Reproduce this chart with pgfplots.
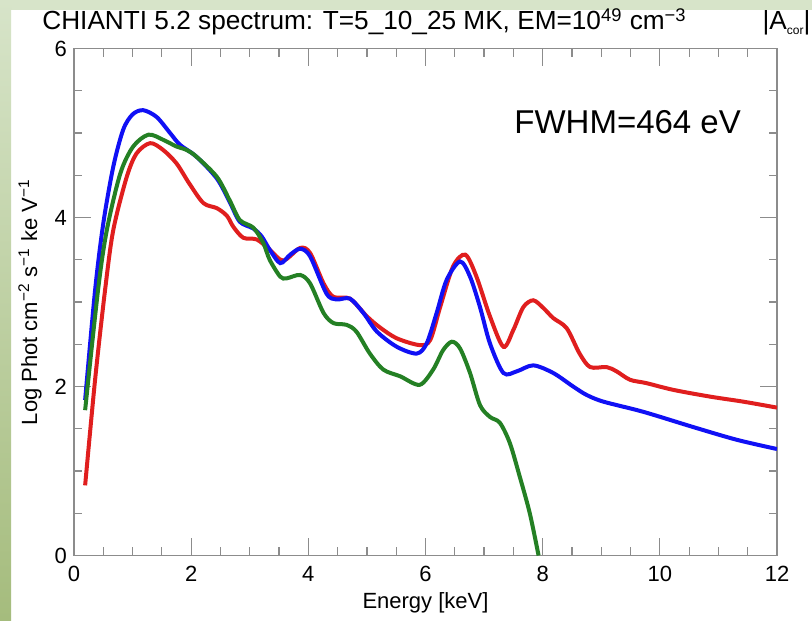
\documentclass[border=0pt]{standalone}
\usepackage{pgfplots}
\pgfplotsset{compat=1.18}
\usepackage{fontspec}
\setmainfont{Liberation Sans}
\definecolor{bgtop}{HTML}{D7E4C9}
\definecolor{bgbot}{HTML}{A5BC7D}
\definecolor{cblue}{HTML}{1010F5}
\definecolor{cred}{HTML}{E01E1E}
\definecolor{cgreen}{HTML}{248024}
\definecolor{axgray}{HTML}{8C8C8C}
\begin{document}
\begin{tikzpicture}[x=1pt,y=1pt]
\useasboundingbox (0,0) rectangle (406,310);
\fill[white] (0,0) rectangle (406,310);
\fill[bgtop] (0,305) rectangle (406,310);
\shade[top color=bgtop, bottom color=bgbot] (0,0) rectangle (5.5,310);
\node[anchor=base west, inner sep=0pt, font=\fontsize{13.1}{15}\selectfont] at (21,295)
 {CHIANTI 5.2 spectrum: T=5\_10\_25 MK, EM=10\textsuperscript{49} cm\textsuperscript{−3}\hspace{38pt}|A\raisebox{-0.3ex}{\fontsize{6}{6}\selectfont cor}|};
\begin{axis}[
  at={(37pt,32.25pt)}, anchor=south west, scale only axis,
  width=351.5pt, height=253.5pt,
  xmin=0, xmax=12, ymin=0, ymax=6,
  xtick={0,2,...,12}, ytick={0,2,4,6},
  minor x tick num=3, minor y tick num=3,
  tick align=inside,
  major tick length=8.5pt, minor tick length=4pt,
  axis line style={axgray, line width=0.7pt},
  every tick/.style={axgray, line width=0.6pt},
  tick label style={font=\fontsize{11}{13}\selectfont, black},
  /pgf/number format/assume math mode=true,
  xticklabel style={yshift=-2pt},
  xlabel={Energy [keV]},
  ylabel={Log Phot cm\textsuperscript{−2} s\textsuperscript{−1} ke V\textsuperscript{−1}},
  label style={font=\fontsize{11}{13}\selectfont},
  xlabel style={at={(axis description cs:0.5,-0.0937)}, anchor=center},
  ylabel style={at={(axis description cs:-0.0626,0.5)}, anchor=center},
  every axis plot/.append style={line width=2pt, smooth, tension=0.5},
]
\addplot[cred] coordinates {
(0.19,0.83)(0.36,2.08)(0.53,3.14)(0.67,3.85)(0.90,4.48)(1.07,4.76)(1.30,4.88)(1.52,4.80)(1.75,4.64)(1.97,4.40)(2.21,4.17)(2.44,4.11)(2.61,4.02)(2.72,3.89)(2.89,3.76)(3.12,3.74)(3.34,3.62)(3.57,3.49)(3.86,3.64)(4.03,3.58)(4.26,3.22)(4.43,3.06)(4.71,3.04)(5.00,2.83)(5.22,2.70)(5.51,2.57)(5.90,2.49)(6.08,2.55)(6.25,2.94)(6.47,3.42)(6.68,3.56)(6.87,3.30)(7.10,2.83)(7.33,2.47)(7.50,2.67)(7.67,2.94)(7.84,3.02)(8.01,2.93)(8.18,2.81)(8.41,2.69)(8.63,2.39)(8.81,2.23)(9.09,2.23)(9.26,2.18)(9.49,2.08)(9.77,2.04)(10.23,1.96)(10.86,1.88)(11.43,1.82)(12.0,1.75)
};
\addplot[cblue] coordinates {
(0.19,1.84)(0.36,3.14)(0.50,3.93)(0.67,4.60)(0.84,5.04)(1.00,5.22)(1.18,5.27)(1.41,5.19)(1.64,5.00)(1.81,4.86)(2.09,4.72)(2.44,4.46)(2.66,4.18)(2.83,3.95)(3.06,3.87)(3.20,3.78)(3.34,3.62)(3.52,3.46)(3.69,3.56)(3.86,3.63)(4.03,3.54)(4.31,3.10)(4.48,3.03)(4.71,3.04)(4.94,2.87)(5.17,2.65)(5.51,2.47)(5.85,2.39)(6.02,2.51)(6.19,2.87)(6.36,3.26)(6.59,3.48)(6.76,3.30)(6.93,2.94)(7.10,2.51)(7.33,2.16)(7.56,2.18)(7.84,2.25)(8.18,2.16)(8.52,2.00)(8.75,1.90)(9.04,1.82)(9.72,1.70)(10.57,1.52)(11.31,1.37)(12.0,1.26)
};
\addplot[cgreen] coordinates {
(0.19,1.72)(0.41,3.14)(0.56,3.85)(0.79,4.52)(1.01,4.84)(1.27,4.98)(1.52,4.92)(1.75,4.84)(1.92,4.80)(2.09,4.72)(2.44,4.48)(2.66,4.20)(2.83,3.97)(3.06,3.88)(3.23,3.70)(3.34,3.50)(3.52,3.30)(3.63,3.28)(3.86,3.32)(4.03,3.22)(4.26,2.87)(4.43,2.75)(4.65,2.73)(4.82,2.65)(5.05,2.39)(5.28,2.20)(5.57,2.12)(5.90,2.02)(6.13,2.20)(6.30,2.43)(6.45,2.53)(6.59,2.45)(6.76,2.16)(6.93,1.78)(7.10,1.64)(7.27,1.57)(7.44,1.33)(7.61,0.93)(7.78,0.50)(7.93,0.0)
};
\node[font=\fontsize{16.5}{18}\selectfont] at (axis cs:9.45,5.13) {FWHM=464 eV};
\end{axis}
\end{tikzpicture}
\end{document}
